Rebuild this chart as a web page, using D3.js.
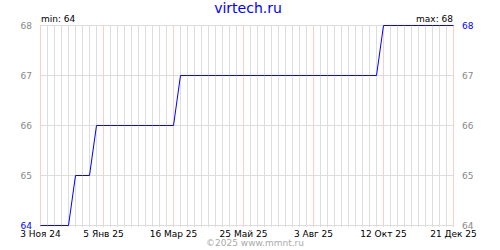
<!DOCTYPE html>
<html>
<head>
<meta charset="utf-8">
<script src="https://cdn.jsdelivr.net/npm/d3@7"></script>
<style>
  body { margin: 0; background: #fff; }
  text { font-family: "DejaVu Sans", sans-serif; font-size: 9px; }
</style>
</head>
<body>
<script>
// weekly values, 3 Nov 2024 .. 21 Dec 2025
let values = [64, 64, 64, 64, 64, 65, 65, 65, 66, 66,
              66, 66, 66, 66, 66, 66, 66, 66, 66, 66,
              67, 67, 67, 67, 67, 67, 67, 67, 67, 67,
              67, 67, 67, 67, 67, 67, 67, 67, 67, 67,
              67, 67, 67, 67, 67, 67, 67, 67, 67, 68,
              68, 68, 68, 68, 68, 68, 68, 68, 68, 68];
let tickDates = ["2024-11-03", "2025-01-05", "2025-03-16", "2025-05-25", "2025-08-03", "2025-10-12", "2025-12-21"];
let tickLabels = ["3 Ноя 24", "5 Янв 25", "16 Мар 25", "25 Май 25", "3 Авг 25", "12 Окт 25", "21 Дек 25"];
let yTicks = [64, 65, 66, 67, 68];

let width = 500;
let height = 250;
let parse = d3.utcParse("%Y-%m-%d");

let start = parse("2024-11-03");
let dates = d3.utcWeek.range(start, d3.utcDay.offset(parse("2025-12-21"), 1));
let data = dates.map((d, i) => ({date: d, value: values[i]}));
let ticks = tickDates.map(parse);

let svg = d3.select("body").append("svg")
    .attr("width", width)
    .attr("height", height);

let x = d3.scaleUtc()
    .domain([start, parse("2025-12-21")])
    .range([40.5, 453.5]);

let y = d3.scaleLinear()
    .domain([64, 68])
    .range([225.5, 25.5]);

// weekly grid
svg.selectAll(".vgrid")
    .data(dates)
    .join("line")
    .attr("class", "vgrid")
    .attr("x1", d => Math.round(x(d) - 0.5) + 0.5)
    .attr("x2", d => Math.round(x(d) - 0.5) + 0.5)
    .attr("y1", 25)
    .attr("y2", 227)
    .attr("stroke", "#dddddd");

svg.selectAll(".hgrid")
    .data(yTicks)
    .join("line")
    .attr("class", "hgrid")
    .attr("x1", 40)
    .attr("x2", 454)
    .attr("y1", d => y(d))
    .attr("y2", d => y(d))
    .attr("stroke", "#dddddd");

svg.selectAll(".mgrid")
    .data(ticks)
    .join("line")
    .attr("class", "mgrid")
    .attr("x1", d => Math.round(x(d) - 0.5) + 0.5)
    .attr("x2", d => Math.round(x(d) - 0.5) + 0.5)
    .attr("y1", 25)
    .attr("y2", 227)
    .attr("stroke", "#ffcccc");

let line = d3.line()
    .x(d => Math.round(x(d.date) - 0.5) + 0.5)
    .y(d => y(d.value));

svg.append("path")
    .datum(data)
    .attr("d", line)
    .attr("fill", "none")
    .attr("stroke", "#0000ff")
    .attr("stroke-width", 1);

let minV = d3.min(values);
let maxV = d3.max(values);

// y labels
svg.selectAll(".ylabL")
    .data(yTicks)
    .join("text")
    .attr("class", "ylabL")
    .attr("x", 32)
    .attr("y", d => y(d) + 3)
    .attr("text-anchor", "end")
    .attr("fill", d => d == minV ? "#0000ff" : "#888888")
    .text(d => d);

svg.selectAll(".ylabR")
    .data(yTicks)
    .join("text")
    .attr("class", "ylabR")
    .attr("x", 462)
    .attr("y", d => y(d) + 3)
    .attr("fill", d => d == maxV ? "#0000ff" : "#888888")
    .text(d => d);

// x labels
svg.selectAll(".xlab")
    .data(ticks)
    .join("text")
    .attr("class", "xlab")
    .attr("x", d => x(d))
    .attr("y", 237)
    .attr("text-anchor", "middle")
    .attr("fill", "#000")
    .text((d, i) => tickLabels[i]);

svg.append("text")
    .attr("x", 41)
    .attr("y", 22)
    .attr("fill", "#000")
    .text("min: " + minV);

svg.append("text")
    .attr("x", 453)
    .attr("y", 22)
    .attr("text-anchor", "end")
    .attr("fill", "#000")
    .text("max: " + maxV);

svg.append("text")
    .attr("x", 248)
    .attr("y", 13)
    .attr("text-anchor", "middle")
    .attr("fill", "#0000ff")
    .style("font-size", "14px")
    .text("virtech.ru");

svg.append("text")
    .attr("x", 255)
    .attr("y", 246)
    .attr("text-anchor", "middle")
    .attr("fill", "#aaaaaa")
    .text("©2025 www.mmnt.ru");
</script>
</body>
</html>
